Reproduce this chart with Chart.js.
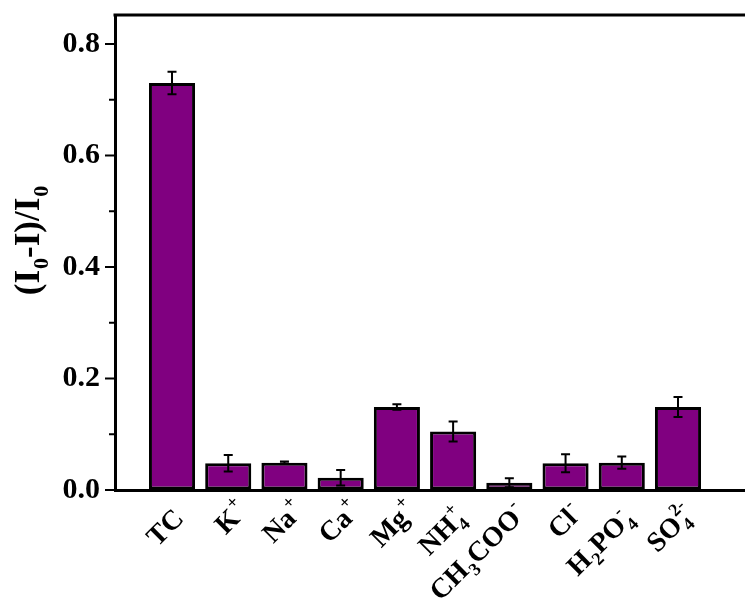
<!DOCTYPE html>
<html>
<head>
<meta charset="utf-8">
<script src="https://cdn.jsdelivr.net/npm/chart.js@4.4.1/dist/chart.umd.min.js"></script>
<style>
  html, body { margin: 0; padding: 0; background: #ffffff; overflow: hidden; }
  #wrap { width: 760px; height: 605px; }
</style>
</head>
<body>
<div id="wrap"><canvas id="c" width="760" height="605"></canvas></div>
<script>
// ---- data ----
const categories = ['TC', 'K+', 'Na+', 'Ca+', 'Mg+', 'NH4+', 'CH3COO-', 'Cl-', 'H2PO4-', 'SO42-'];
// rich label tokens: plain text, '_x' subscript, '^x' superscript, '_x^y' stacked
const labelTokens = [
  ['TC'],
  ['K', '^+'],
  ['Na', '^+'],
  ['Ca', '^+'],
  ['Mg', '^+'],
  ['NH', '_4^+'],
  ['CH', '_3', 'COO', '^-'],
  ['Cl', '^-'],
  ['H', '_2', 'PO', '_4^-'],
  ['SO', '_4^2-']
];
const values = [0.730, 0.048, 0.049, 0.022, 0.149, 0.105, 0.013, 0.048, 0.049, 0.149];
const errors = [0.020, 0.015, 0.002, 0.014, 0.005, 0.018, 0.008, 0.016, 0.011, 0.018];
const yTicks = [0, 0.1, 0.2, 0.3, 0.4, 0.5, 0.6, 0.7, 0.8];
const yMajorLabels = ['0.0', '', '0.2', '', '0.4', '', '0.6', '', '0.8'];
const yTitleTokens = ['(I', '_0', '-I)/I', '_0'];

const SERIF = '"Liberation Serif", "Times New Roman", "DejaVu Serif", serif';

function parseToken(tok) {
  if (tok[0] !== '_' && tok[0] !== '^') return { main: tok };
  let sub = null, sup = null;
  const re = /([_^])([^_^]+)/g;
  let m;
  while ((m = re.exec(tok))) {
    if (m[1] === '_') sub = m[2]; else sup = m[2];
  }
  return { sub, sup };
}

function drawRich(ctx, tokens, mainSize, smallSize, subDy, supDy, align) {
  const mainFont = 'bold ' + mainSize + 'px ' + SERIF;
  const smallFont = 'bold ' + smallSize + 'px ' + SERIF;
  const parts = tokens.map(parseToken);
  let W = 0;
  parts.forEach((p, k) => {
    if (p.main !== undefined) { ctx.font = mainFont; p.w = ctx.measureText(p.main).width; }
    else {
      ctx.font = smallFont;
      const a = p.sub ? ctx.measureText(p.sub).width : 0;
      const b = p.sup ? ctx.measureText(p.sup).width : 0;
      p.w = Math.max(a, b) + 1;
      // alignment ignores a trailing superscript (it hangs past the end)
      p.align = (k === parts.length - 1) ? (a ? a + 1 : 0) : p.w;
    }
    W += (p.align !== undefined ? p.align : p.w);
  });
  let x = align === 'right' ? -W : -W / 2;
  ctx.textAlign = 'left';
  ctx.textBaseline = 'alphabetic';
  parts.forEach(p => {
    if (p.main !== undefined) { ctx.font = mainFont; ctx.fillText(p.main, x, 0); }
    else {
      ctx.font = smallFont;
      if (p.sub) ctx.fillText(p.sub, x + 1, subDy);
      if (p.sup) ctx.fillText(p.sup, x + 1, supDy);
    }
    x += p.w;
  });
}

const decor = {
  id: 'decor',
  afterDatasetsDraw(chart) {
    const ctx = chart.ctx;
    const xs = chart.scales.x, ys = chart.scales.y;
    const area = chart.chartArea;
    ctx.save();
    // error bars
    ctx.strokeStyle = '#000';
    ctx.lineWidth = 2;
    values.forEach((v, i) => {
      const x = xs.getPixelForValue(i);
      const yt = ys.getPixelForValue(v + errors[i]);
      const yb = ys.getPixelForValue(Math.max(0, v - errors[i]));
      ctx.beginPath();
      ctx.moveTo(x, yt); ctx.lineTo(x, yb);
      ctx.moveTo(x - 4.5, yt); ctx.lineTo(x + 4.5, yt);
      ctx.moveTo(x - 4.5, yb); ctx.lineTo(x + 4.5, yb);
      ctx.stroke();
    });
    // frame top and right
    ctx.lineWidth = 3;
    ctx.beginPath();
    ctx.moveTo(area.left - 1.5, area.top); ctx.lineTo(area.right, area.top); ctx.lineTo(area.right, area.bottom);
    ctx.stroke();
    // y tick marks
    ctx.lineWidth = 2;
    yTicks.forEach((v, i) => {
      const y = ys.getPixelForValue(v);
      const len = yMajorLabels[i] ? 10 : 6;
      ctx.beginPath();
      ctx.moveTo(area.left - len, y); ctx.lineTo(area.left, y);
      ctx.stroke();
    });
    // x labels
    ctx.fillStyle = '#000';
    labelTokens.forEach((toks, i) => {
      const x = xs.getPixelForValue(i);
      ctx.save();
      ctx.translate(x + 13, area.bottom + 30);
      ctx.rotate(-Math.PI / 4);
      drawRich(ctx, toks, 28, 18, 7, -13, 'right');
      ctx.restore();
    });
    // y title
    ctx.save();
    ctx.translate(39, (area.top + area.bottom) / 2 - 12);
    ctx.rotate(-Math.PI / 2);
    drawRich(ctx, yTitleTokens, 35, 22, 9, -14, 'center');
    ctx.restore();
    ctx.restore();
  }
};

new Chart(document.getElementById('c'), {
  type: 'bar',
  data: {
    labels: categories,
    datasets: [{
      data: values.map((v, i) => ({ x: i, y: v })),
      backgroundColor: '#800080',
      borderColor: '#000000',
      borderWidth: 3,
      borderSkipped: false,
      barPercentage: 0.82,
      categoryPercentage: 1.0
    }]
  },
  options: {
    responsive: false,
    animation: false,
    layout: { padding: { top: 15, right: 12, left: 0, bottom: 0 } },
    plugins: { legend: { display: false }, tooltip: { enabled: false } },
    scales: {
      x: {
        type: 'linear',
        min: -1.014,
        max: 10.245,
        offset: false,
        grid: { display: false },
        border: { display: true, color: '#000', width: 3 },
        ticks: { display: false },
        afterFit: s => { s.height = 115; s.paddingLeft = 0; s.paddingRight = 0; }
      },
      y: {
        min: 0,
        max: 0.852,
        afterBuildTicks: s => { s.ticks = yTicks.map(v => ({ value: v })); },
        grid: { display: true, drawOnChartArea: false, drawTicks: true, tickLength: 10, tickColor: 'rgba(0,0,0,0)' },
        border: { display: true, color: '#000', width: 3 },
        ticks: {
          padding: 5,
          color: '#000',
          font: { family: SERIF, size: 30, weight: 'bold' },
          callback: (v, i) => yMajorLabels[i]
        },
        afterFit: s => { s.width = 115; s.paddingTop = 0; s.paddingBottom = 0; }
      }
    }
  },
  plugins: [decor]
});
</script>
</body>
</html>
